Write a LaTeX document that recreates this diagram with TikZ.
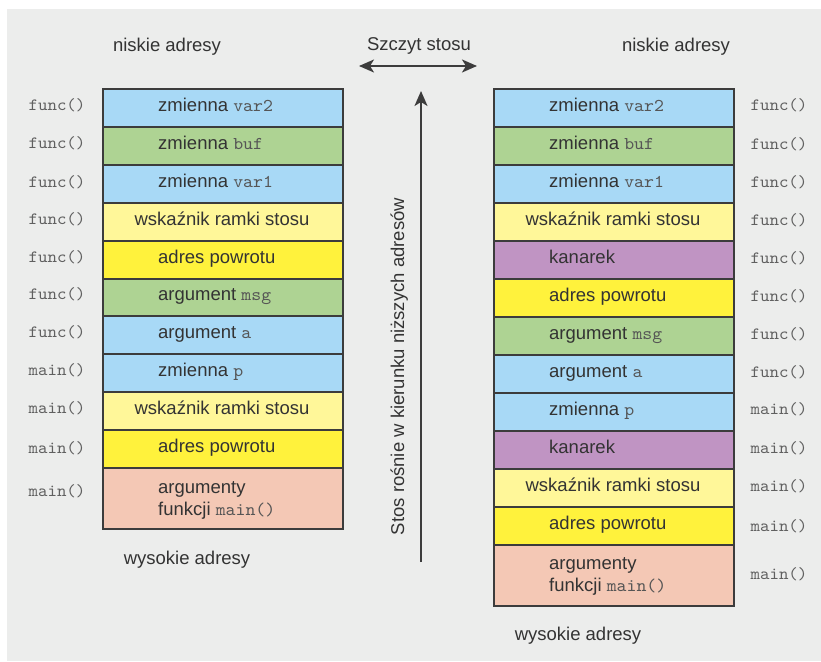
\documentclass[tikz,border=0pt]{standalone}
\usepackage{fontspec}
\setmainfont{Liberation Sans}
\setmonofont[FakeStretch=1.05]{lmmono10-regular.otf}
\usetikzlibrary{arrows.meta}
\definecolor{bg}{HTML}{ECEDEC}
\definecolor{cblue}{HTML}{A8D9F6}
\definecolor{cgreen}{HTML}{AED393}
\definecolor{clyellow}{HTML}{FFF799}
\definecolor{cyellow}{HTML}{FFF23C}
\definecolor{csalmon}{HTML}{F4C8B5}
\definecolor{cpurple}{HTML}{C094C3}
\definecolor{ink}{HTML}{333333}
\definecolor{edgec}{HTML}{3C3C3C}
\definecolor{monoc}{HTML}{555555}
\definecolor{labc}{HTML}{606060}
\newcommand\monotxt[1]{{\fontsize{18}{20}\ttfamily\color{monoc}#1}}
\begin{document}
\begin{tikzpicture}[x=1pt,y=-1pt,
  cell/.style={draw=edgec, line width=2pt, minimum width=240pt, inner sep=0pt, anchor=north west},
  txt/.style={font=\fontsize{18.5}{22}\selectfont, text=ink, inner sep=0pt, text height=13pt, text depth=4pt},
  fn/.style={font=\fontsize{17.2}{19}\selectfont\ttfamily, text=labc, inner sep=0pt},
  arr/.style={draw=edgec, line width=2pt, -{Stealth[length=15pt,width=13pt,inset=4pt]}},
  darr/.style={draw=edgec, line width=2pt, {Stealth[length=15pt,width=13pt,inset=4pt]}-{Stealth[length=15pt,width=13pt,inset=4pt]}}]
\useasboundingbox (0,0) rectangle (821,661);
\fill[white] (0,0) rectangle (821,661);
\fill[bg] (7,9) rectangle (821,661);

% headers
\node[txt] (hl) at (167,47) {niskie adresy};
\node[txt] (hm) at (419,46) {Szczyt stosu};
\node[txt] (hr) at (676,47) {niskie adresy};
\node[txt] (wl) at (187,559.5) {wysokie adresy};
\node[txt] (wr) at (578,636) {wysokie adresy};

% top double arrow
\coordinate (da) at (359,66);
\coordinate (db) at (477,66);
\draw[darr] (da) -- (db);

% vertical arrow
\coordinate (vb) at (421,562);
\coordinate (vt) at (421,91);
\draw[arr] (vb) -- (vt);
\node[txt, rotate=90] (vl) at (399.5,366.5) {Stos rośnie w kierunku niższych adresów};

% left stack
\foreach \i/\c/\x/\a/\t in {
  0/cblue/158/west/{zmienna \monotxt{var2}},
  1/cgreen/158/west/{zmienna \monotxt{buf}},
  2/cblue/158/west/{zmienna \monotxt{var1}},
  3/clyellow/222/center/{wskaźnik ramki stosu},
  4/cyellow/158/west/{adres powrotu},
  5/cgreen/158/west/{argument \monotxt{msg}},
  6/cblue/158/west/{argument \monotxt{a}},
  7/cblue/158/west/{zmienna \monotxt{p}},
  8/clyellow/222/center/{wskaźnik ramki stosu},
  9/cyellow/158/west/{adres powrotu}}{
  \node[cell, fill=\c, minimum height=37.9pt] (L\i) at (102,{88+\i*37.9}) {};
  \node[txt, anchor=\a] (Lt\i) at (\x,{88+(\i+0.5)*37.9}) {\t};
}
\node[cell, fill=csalmon, minimum height=61pt] (L10) at (102,467) {};
\node[txt, anchor=base west] (Lt10a) at (158,493.3) {argumenty};
\node[txt, anchor=base west] (Lt10b) at (158,515.3) {funkcji \monotxt{main()}};

\foreach \i/\y/\t in {0/105/func(),1/143/func(),2/182/func(),3/219/func(),4/257/func(),5/294/func(),6/332/func(),7/370/main(),8/408/main(),9/448/main(),10/491/main()}{
  \node[fn] (LF\i) at (57,\y) {\t};
}

% right stack
\foreach \i/\c/\x/\a/\t in {
  0/cblue/549/west/{zmienna \monotxt{var2}},
  1/cgreen/549/west/{zmienna \monotxt{buf}},
  2/cblue/549/west/{zmienna \monotxt{var1}},
  3/clyellow/613/center/{wskaźnik ramki stosu},
  4/cpurple/549/west/{kanarek},
  5/cyellow/549/west/{adres powrotu},
  6/cgreen/549/west/{argument \monotxt{msg}},
  7/cblue/549/west/{argument \monotxt{a}},
  8/cblue/549/west/{zmienna \monotxt{p}},
  9/cpurple/549/west/{kanarek},
  10/clyellow/613/center/{wskaźnik ramki stosu},
  11/cyellow/549/west/{adres powrotu}}{
  \node[cell, fill=\c, minimum height=38pt] (R\i) at (493,{88+\i*38}) {};
  \node[txt, anchor=\a] (Rt\i) at (\x,{88+(\i+0.5)*38}) {\t};
}
\node[cell, fill=csalmon, minimum height=61pt] (R12) at (493,544) {};
\node[txt, anchor=base west] (Rt12a) at (549,569.5) {argumenty};
\node[txt, anchor=base west] (Rt12b) at (549,591.7) {funkcji \monotxt{main()}};

\foreach \i/\y/\t in {0/105/func(),1/144/func(),2/182/func(),3/220/func(),4/258/func(),5/296/func(),6/334/func(),7/372/func(),8/409/main(),9/448/main(),10/486/main(),11/526/main(),12/574/main()}{
  \node[fn] (RF\i) at (779,\y) {\t};
}
\end{tikzpicture}
\end{document}
